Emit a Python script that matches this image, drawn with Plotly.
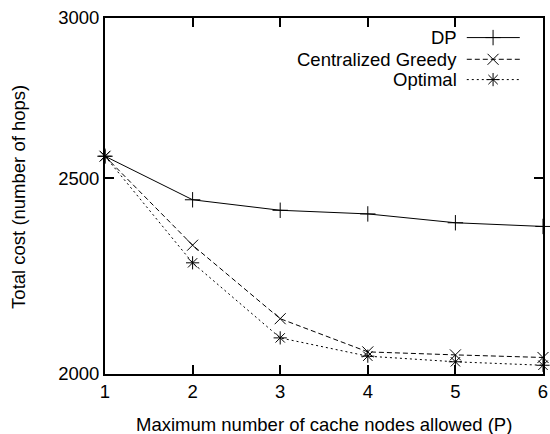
import plotly.graph_objects as go
import math

# Data
P = [1, 2, 3, 4, 5, 6]
dp = [2563, 2439, 2410, 2400, 2376, 2366]
greedy = [2563, 2316, 2130, 2051, 2044, 2038]
optimal = [2563, 2270, 2084, 2041, 2028, 2020]
series_names = ["DP", "Centralized Greedy", "Optimal"]
y_ticks = [2000, 2500, 3000]
x_ticks = [1, 2, 3, 4, 5, 6]
x_title = "Maximum number of cache nodes allowed (P)"
y_title = "Total cost (number of hops)"

FONT = "Liberation Sans, Arial, Helvetica, sans-serif"
FS = 18.5
styles = [
    dict(dash="solid", symbol="cross-thin"),
    dict(dash="5px,3px", symbol="x-thin"),
    dict(dash="2px,3px", symbol="asterisk"),
]

fig = go.Figure()
for name, ys, st in zip(series_names, [dp, greedy, optimal], styles):
    fig.add_trace(go.Scatter(
        x=P, y=ys, name=name, mode="lines+markers",
        line=dict(color="black", width=1, dash=st["dash"]),
        marker=dict(symbol=st["symbol"], size=11, color="black",
                    line=dict(color="black", width=1)),
        cliponaxis=False, showlegend=False,
    ))

# gnuplot-style key: text, then line sample with marker
key_y = [0.945, 0.884, 0.827]
for name, st, ky in zip(series_names, styles, key_y):
    fig.add_annotation(x=0.808, y=ky, xref="paper", yref="paper", text=name,
                       showarrow=False, xanchor="right", yanchor="middle",
                       font=dict(family=FONT, size=FS, color="black"))
    fig.add_shape(type="line", xref="paper", yref="paper",
                  x0=0.826, x1=0.947, y0=ky, y1=ky,
                  line=dict(color="black", width=1, dash=st["dash"]))
    fig.add_trace(go.Scatter(
        x=[0.886], y=[ky], xaxis="x2", yaxis="y2", mode="markers",
        marker=dict(symbol=st["symbol"], size=11, color="black",
                    line=dict(color="black", width=1)),
        showlegend=False, hoverinfo="skip",
    ))

# axis titles as annotations (precise placement)
fig.add_annotation(x=0.5, y=-0.143, xref="paper", yref="paper", text=x_title,
                   showarrow=False, xanchor="center", yanchor="middle",
                   font=dict(family=FONT, size=FS, color="black"))
fig.add_annotation(x=-0.199, y=0.497, xref="paper", yref="paper", text=y_title,
                   showarrow=False, xanchor="center", yanchor="middle",
                   textangle=-90,
                   font=dict(family=FONT, size=FS, color="black"))

fig.update_layout(
    width=550, height=434,
    margin=dict(l=105, r=7, t=18, b=60),
    plot_bgcolor="white", paper_bgcolor="white",
    font=dict(family=FONT, size=FS, color="black"),
    showlegend=False,
    xaxis=dict(
        range=[1, 6], tickvals=x_ticks, ticks="inside", ticklen=9,
        tickwidth=2, tickcolor="black", showline=True, linecolor="black",
        linewidth=2, mirror="ticks", showgrid=False, zeroline=False,
        ticklabelstandoff=0, automargin=False,
        tickfont=dict(size=FS),
    ),
    yaxis=dict(
        type="log", range=[math.log10(2000), math.log10(3000)],
        tickvals=y_ticks, ticktext=[str(v) for v in y_ticks],
        ticks="inside", ticklen=9, tickwidth=2, tickcolor="black",
        showline=True, linecolor="black", linewidth=2, mirror="ticks",
        showgrid=False, zeroline=False, automargin=False,
        tickfont=dict(size=FS),
    ),
    xaxis2=dict(overlaying="x", range=[0, 1], visible=False),
    yaxis2=dict(overlaying="y", range=[0, 1], visible=False),
)

fig.write_html("out.html")
